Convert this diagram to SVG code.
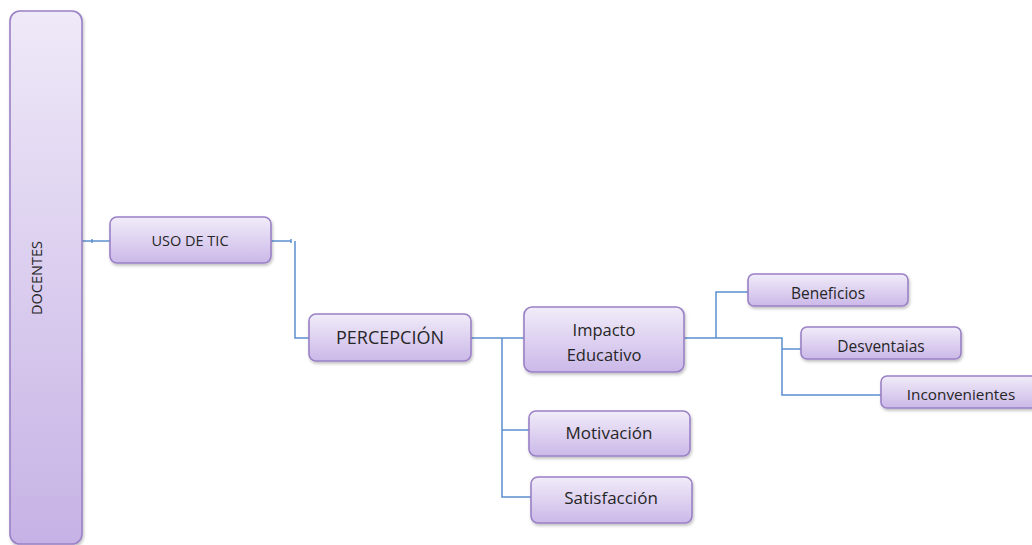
<svg xmlns="http://www.w3.org/2000/svg" width="1032" height="545" viewBox="0 0 1032 545">
  <defs>
    <linearGradient id="boxFill" x1="0" y1="0" x2="0" y2="1">
      <stop offset="0" stop-color="#f1ecf9"/>
      <stop offset="1" stop-color="#cbb8e8"/>
    </linearGradient>
    <linearGradient id="tallFill" x1="0" y1="0" x2="0" y2="1">
      <stop offset="0" stop-color="#efe9f8"/>
      <stop offset="1" stop-color="#c6b2e5"/>
    </linearGradient>
    <filter id="shadow" x="-10%" y="-10%" width="120%" height="130%">
      <feDropShadow dx="1" dy="2" stdDeviation="1.5" flood-color="#000" flood-opacity="0.25"/>
    </filter>
  </defs>
  <style>
    .box { fill: url(#boxFill); stroke: #9a80c6; stroke-width: 1.6; filter: url(#shadow); }
    .tall { fill: url(#tallFill); stroke: #9a80c6; stroke-width: 1.6; filter: url(#shadow); }
    .lbl { font-family: "Open Sans", "Liberation Sans", sans-serif; fill: #262626; text-anchor: middle; dominant-baseline: central; }
    .link { fill: none; stroke: #5b8fd0; stroke-width: 1.5; }
  </style>
  <rect width="1032" height="545" fill="#ffffff"/>

  <!-- connectors -->
  <g id="connectors" class="link">
    <path d="M82 241 H110"/>
    <path d="M92 239 V243"/>
    <path d="M271 241 H291"/>
    <path d="M291 239 V243"/>
    <path d="M295 241 V338 H309"/>
    <path d="M471 338 H524"/>
    <path d="M502 338 V497 H531"/>
    <path d="M502 430 H529"/>
    <path d="M684 338 H782 V395 H881"/>
    <path d="M716 338 V292 H748"/>
    <path d="M782 349 H801"/>
  </g>

  <g id="docentes">
    <rect class="tall" x="10" y="11" width="72" height="533" rx="10"/>
    <text class="lbl" x="36" y="278" font-size="14.5" transform="rotate(-90 36 278)">DOCENTES</text>
  </g>

  <g id="uso-de-tic">
    <rect class="box" x="110" y="217" width="161" height="46" rx="7"/>
    <text class="lbl" x="190" y="240" font-size="14.5">USO DE TIC</text>
  </g>

  <g id="percepcion">
    <rect class="box" x="309" y="314" width="162" height="47" rx="7"/>
    <text class="lbl" x="390" y="337" font-size="18">PERCEPCIÓN</text>
  </g>

  <g id="impacto-educativo">
    <rect class="box" x="524" y="307" width="160" height="65" rx="8"/>
    <text class="lbl" x="604" y="329" font-size="16.5">Impacto</text>
    <text class="lbl" x="604" y="354" font-size="16.5">Educativo</text>
  </g>

  <g id="motivacion">
    <rect class="box" x="529" y="411" width="161" height="45" rx="7"/>
    <text class="lbl" x="609" y="432" font-size="17">Motivación</text>
  </g>

  <g id="satisfaccion">
    <rect class="box" x="531" y="477" width="161" height="46" rx="7"/>
    <text class="lbl" x="611" y="497" font-size="17">Satisfacción</text>
  </g>

  <g id="beneficios">
    <rect class="box" x="748" y="274" width="160" height="32" rx="6"/>
    <text class="lbl" x="828" y="293" font-size="15.5">Beneficios</text>
  </g>

  <g id="desventajas">
    <rect class="box" x="801" y="327" width="160" height="32" rx="6"/>
    <text class="lbl" x="881" y="346" font-size="15.5">Desventaias</text>
  </g>

  <g id="inconvenientes">
    <rect class="box" x="881" y="376" width="160" height="32" rx="6"/>
    <text class="lbl" x="961" y="394" font-size="15.3">Inconvenientes</text>
  </g>
</svg>
